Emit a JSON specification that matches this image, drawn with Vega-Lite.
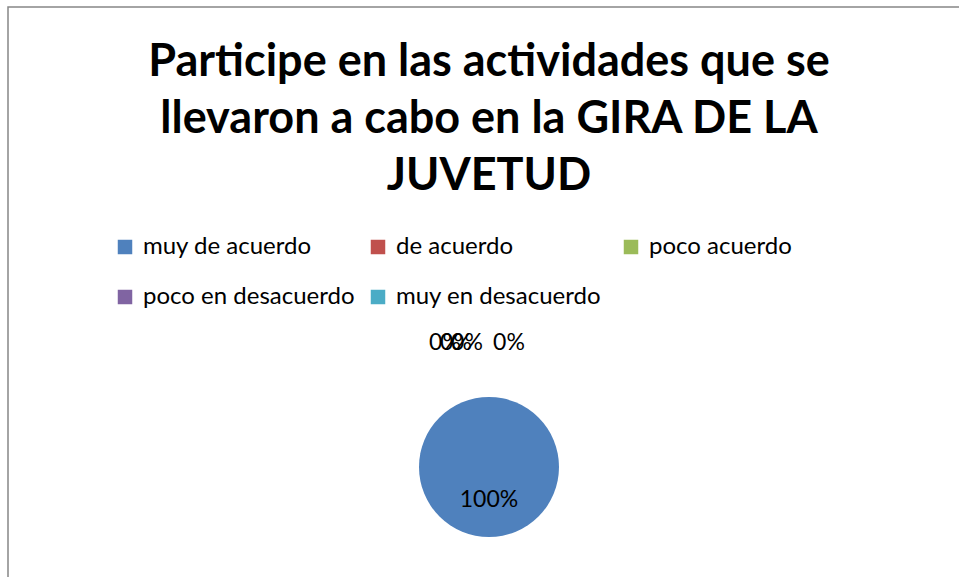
{
  "$schema": "https://vega.github.io/schema/vega-lite/v6.json",
  "autosize": {"type": "none"},
  "padding": {"left": 8, "top": 7, "right": 0, "bottom": 0},
  "width": 962,
  "height": 920,
  "background": "white",
  "view": {"stroke": "#878787", "strokeWidth": 1.5, "fill": "white"},
  "config": {
    "font": "Lato"
  },
  "title": {
    "text": ["Participe en las actividades que se", "llevaron a cabo en la GIRA DE LA", "JUVETUD"],
    "font": "Lato",
    "fontSize": 45,
    "fontWeight": "bold",
    "color": "#000000",
    "lineHeight": 57,
    "anchor": "middle",
    "frame": "group",
    "baseline": "top",
    "offset": -192
  },
  "data": {
    "values": [
      {"categoria": "muy de acuerdo", "valor": 1},
      {"categoria": "de acuerdo", "valor": 0},
      {"categoria": "poco acuerdo", "valor": 0},
      {"categoria": "poco en desacuerdo", "valor": 0},
      {"categoria": "muy en desacuerdo", "valor": 0}
    ]
  },
  "layer": [
    {
      "mark": {"type": "arc", "outerRadius": 70},
      "encoding": {
        "theta": {"field": "valor", "type": "quantitative", "stack": true},
        "color": {
          "field": "categoria",
          "type": "nominal",
          "sort": ["muy de acuerdo", "de acuerdo", "poco acuerdo", "poco en desacuerdo", "muy en desacuerdo"],
          "scale": {
            "domain": ["muy de acuerdo", "de acuerdo", "poco acuerdo", "poco en desacuerdo", "muy en desacuerdo"],
            "range": ["#4F81BD", "#C0504D", "#9BBB59", "#8064A2", "#4BACC6"]
          },
          "legend": {
            "title": null,
            "orient": "none",
            "legendX": 105,
            "legendY": 228,
            "direction": "horizontal",
            "columns": 3,
            "gridAlign": "all",
            "columnPadding": 11,
            "rowPadding": 26,
            "padding": 0,
            "symbolType": "square",
            "symbolSize": 210,
            "symbolStrokeWidth": 0,
            "labelFont": "Lato",
            "labelFontSize": 24,
            "labelColor": "#000000",
            "labelOffset": 6,
            "labelLimit": 500
          }
        }
      }
    },
    {
      "transform": [{"filter": "datum.valor > 0"}],
      "mark": {"type": "text", "radius": 33, "font": "Lato", "fontSize": 23, "color": "#000000"},
      "encoding": {
        "theta": {"field": "valor", "type": "quantitative", "stack": true},
        "text": {"field": "valor", "type": "quantitative", "format": ".0%"}
      }
    },
    {
      "transform": [{"filter": "datum.categoria == 'de acuerdo'"}],
      "mark": {"type": "text", "radius": 124, "dx": -44, "font": "Lato", "fontSize": 23, "color": "#000000"},
      "encoding": {
        "theta": {"field": "valor", "type": "quantitative", "stack": true},
        "text": {"field": "valor", "type": "quantitative", "format": ".0%"}
      }
    },
    {
      "transform": [{"filter": "datum.categoria == 'poco acuerdo'"}],
      "mark": {"type": "text", "radius": 124, "dx": -33, "font": "Lato", "fontSize": 23, "color": "#000000"},
      "encoding": {
        "theta": {"field": "valor", "type": "quantitative", "stack": true},
        "text": {"field": "valor", "type": "quantitative", "format": ".0%"}
      }
    },
    {
      "transform": [{"filter": "datum.categoria == 'poco en desacuerdo'"}],
      "mark": {"type": "text", "radius": 124, "dx": -22, "font": "Lato", "fontSize": 23, "color": "#000000"},
      "encoding": {
        "theta": {"field": "valor", "type": "quantitative", "stack": true},
        "text": {"field": "valor", "type": "quantitative", "format": ".0%"}
      }
    },
    {
      "transform": [{"filter": "datum.categoria == 'muy en desacuerdo'"}],
      "mark": {"type": "text", "radius": 124, "dx": 20, "font": "Lato", "fontSize": 23, "color": "#000000"},
      "encoding": {
        "theta": {"field": "valor", "type": "quantitative", "stack": true},
        "text": {"field": "valor", "type": "quantitative", "format": ".0%"}
      }
    }
  ]
}
